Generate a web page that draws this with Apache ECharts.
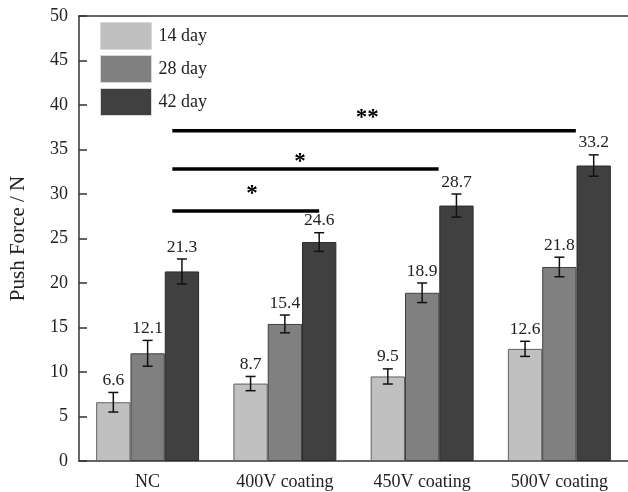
<!DOCTYPE html>
<html>
<head>
<meta charset="utf-8">
<script src="https://cdn.jsdelivr.net/npm/echarts@6/dist/echarts.min.js"></script>
<style>
  html, body { margin: 0; padding: 0; background: #fff; }
  #chart { width: 628px; height: 492px; }
</style>
</head>
<body>
<div id="chart"></div>
<script>
const categories = ["NC", "400V coating", "450V coating", "500V coating"];
const seriesNames = ["14 day", "28 day", "42 day"];
const day14 = [6.6, 8.7, 9.5, 12.6];
const day28 = [12.1, 15.4, 18.9, 21.8];
const day42 = [21.3, 24.6, 28.7, 33.2];
const err14 = [1.1, 0.8, 0.85, 0.85];
const err28 = [1.45, 1.0, 1.1, 1.1];
const err42 = [1.4, 1.05, 1.3, 1.2];
const yTicks = [0, 5, 10, 15, 20, 25, 30, 35, 40, 45, 50];
// significance brackets
const sigStart = [0.18, 0.18, 0.18];
const sigEnd = [3.12, 2.12, 1.25];
const sigLevel = [37.1, 32.8, 28.1];
const sigText = ["**", "*", "*"];
const sigStarX = [1.6, 1.11, 0.76];
const sigStarY = [38.8, 33.9, 30.3];

const colors = ["#c0c0c0", "#808080", "#404040"];
const borders = ["#606060", "#404040", "#2a2a2a"];
const font = "'Liberation Serif', 'Times New Roman', serif";

const values = [day14, day28, day42];
const errs = [err14, err28, err42];

const errData = [];
values.forEach((vals, g) => {
  vals.forEach((v, i) => errData.push([i, v, errs[g][i], g]));
});
const sigData = sigStart.map((s, i) => [s, sigEnd[i], sigLevel[i], i]);

const chart = echarts.init(document.getElementById("chart"));
chart.setOption({
  animation: false,
  backgroundColor: "#fff",
  textStyle: { fontFamily: font },
  grid: { left: 79, right: -3, top: 16, bottom: 31 },
  legend: {
    orient: "vertical",
    left: 100,
    top: 22,
    padding: 0,
    icon: "rect",
    itemWidth: 51,
    itemHeight: 27,
    itemGap: 5,
    data: seriesNames,
    itemStyle: { borderColor: "#d8d8d8", borderWidth: 1 },
    textStyle: { fontFamily: font, fontSize: 18, color: "#222", padding: [0, 0, 0, 2] },
  },
  xAxis: [
    {
      type: "category",
      data: categories,
      axisLine: { lineStyle: { color: "#333", width: 1.5 } },
      axisTick: { show: false },
      axisLabel: { fontFamily: font, fontSize: 18, color: "#222", margin: 12 },
    },
    {
      type: "value",
      min: -0.5,
      max: 3.5,
      position: "top",
      axisLine: { show: true, onZero: false, lineStyle: { color: "#333", width: 1.5 } },
      axisTick: { show: false },
      axisLabel: { show: false },
      splitLine: { show: false },
    },
  ],
  yAxis: {
    type: "value",
    min: yTicks[0],
    max: yTicks[yTicks.length - 1],
    interval: 5,
    name: "Push Force / N",
    nameLocation: "middle",
    nameGap: 50,
    nameTextStyle: { fontFamily: font, fontSize: 21, color: "#222" },
    axisLine: { show: true, onZero: false, lineStyle: { color: "#333", width: 1.5 } },
    axisTick: { show: true, inside: true, length: 8, lineStyle: { color: "#333", width: 1.5 } },
    axisLabel: { fontFamily: font, fontSize: 18, color: "#222", margin: 11 },
    splitLine: { show: false },
  },
  series: [
    ...seriesNames.map((name, g) => ({
      name: name,
      type: "bar",
      data: values[g],
      barGap: "0%",
      barCategoryGap: "25%",
      itemStyle: { color: colors[g], borderColor: borders[g], borderWidth: 1 },
    })),
    {
      type: "custom",
      silent: true,
      data: errData,
      z: 5,
      renderItem: (params, api) => {
        const idx = api.value(0);
        const v = api.value(1);
        const e = api.value(2);
        const g = api.value(3);
        const barW = api.size([1, 0])[0] * 0.25;
        const top = api.coord([idx, v + e]);
        const bot = api.coord([idx, v - e]);
        const x = top[0] + (g - 1) * barW;
        const cap = 5;
        const style = { stroke: "#111", lineWidth: 1.5 };
        return {
          type: "group",
          children: [
            { type: "line", shape: { x1: x, y1: top[1], x2: x, y2: bot[1] }, style },
            { type: "line", shape: { x1: x - cap, y1: top[1], x2: x + cap, y2: top[1] }, style },
            { type: "line", shape: { x1: x - cap, y1: bot[1], x2: x + cap, y2: bot[1] }, style },
            {
              type: "text",
              x: x,
              y: top[1] - 3,
              style: {
                text: v.toFixed(1),
                align: "center",
                verticalAlign: "bottom",
                font: "17.5px " + font,
                fill: "#222",
              },
            },
          ],
        };
      },
    },
    {
      type: "custom",
      silent: true,
      xAxisIndex: 1,
      data: sigData,
      z: 6,
      renderItem: (params, api) => {
        const i = api.value(3);
        const a = api.coord([api.value(0), api.value(2)]);
        const b = api.coord([api.value(1), api.value(2)]);
        const s = api.coord([sigStarX[i], sigStarY[i]]);
        return {
          type: "group",
          children: [
            {
              type: "line",
              shape: { x1: a[0], y1: a[1], x2: b[0], y2: b[1] },
              style: { stroke: "#000", lineWidth: 3.5 },
            },
            {
              type: "text",
              x: s[0],
              y: s[1] + 14,
              style: {
                text: sigText[i],
                align: "center",
                verticalAlign: "bottom",
                font: "bold 23px " + font,
                fill: "#000",
              },
            },
          ],
        };
      },
    },
  ],
});
</script>
</body>
</html>
